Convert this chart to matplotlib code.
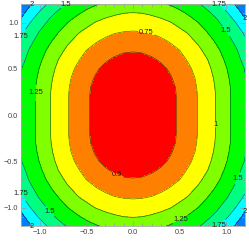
import numpy as np
import matplotlib.pyplot as plt
from matplotlib.ticker import MultipleLocator

plt.rcParams['font.family'] = ['Liberation Sans', 'DejaVu Sans']

# values on a 0.1 grid, quadrant x>=0, y>=0
# (rows: y = 0.0 .. 1.2, columns: x = 0.0 .. 1.2); the plot is symmetric in x and y
grid_step = 0.1
quadrant = np.array([
    [0.00, 0.11, 0.22, 0.33, 0.43, 0.54, 0.65, 0.76, 0.89, 1.02, 1.18, 1.33, 1.47],
    [0.00, 0.11, 0.22, 0.33, 0.43, 0.54, 0.65, 0.76, 0.89, 1.02, 1.18, 1.33, 1.47],
    [0.00, 0.11, 0.22, 0.33, 0.43, 0.54, 0.65, 0.76, 0.89, 1.02, 1.18, 1.33, 1.47],
    [0.09, 0.14, 0.23, 0.34, 0.44, 0.55, 0.66, 0.77, 0.90, 1.03, 1.19, 1.33, 1.48],
    [0.20, 0.22, 0.29, 0.38, 0.48, 0.58, 0.68, 0.79, 0.92, 1.05, 1.21, 1.35, 1.49],
    [0.30, 0.32, 0.37, 0.45, 0.53, 0.62, 0.72, 0.83, 0.95, 1.09, 1.24, 1.38, 1.51],
    [0.41, 0.43, 0.47, 0.53, 0.60, 0.68, 0.78, 0.89, 1.00, 1.14, 1.29, 1.42, 1.57],
    [0.52, 0.53, 0.57, 0.62, 0.68, 0.75, 0.85, 0.95, 1.08, 1.21, 1.34, 1.47, 1.63],
    [0.63, 0.64, 0.67, 0.71, 0.77, 0.85, 0.94, 1.04, 1.16, 1.29, 1.41, 1.55, 1.70],
    [0.74, 0.75, 0.77, 0.82, 0.88, 0.95, 1.03, 1.14, 1.26, 1.37, 1.49, 1.64, 1.80],
    [0.87, 0.87, 0.90, 0.94, 0.99, 1.07, 1.16, 1.25, 1.35, 1.46, 1.61, 1.75, 1.95],
    [0.99, 1.00, 1.03, 1.07, 1.13, 1.20, 1.28, 1.37, 1.46, 1.57, 1.72, 1.88, 2.07],
    [1.15, 1.16, 1.18, 1.22, 1.27, 1.33, 1.40, 1.48, 1.58, 1.72, 1.86, 2.02, 2.18],
])

levels = [0.5, 0.75, 1.0, 1.25, 1.5, 1.75, 2.0]
band_colors = ['#ff0000', '#ff8000', '#ffff00', '#80ff00',
               '#00ff00', '#00ff80', '#00ffff', '#0080ff']

# where the reference puts each contour's labels
label_spots = {
    2.0: [(-1.05, 1.2), (1.2, 1.03), (-1.05, -1.19), (1.2, -1.03)],
    1.75: [(0.9, 1.18), (-1.19, 0.8), (-1.19, -0.83), (0.92, -1.19)],
    1.5: [(-0.685, 1.2), (1.0, 0.91), (-0.88, -1.03), (1.12, -0.685)],
    1.25: [(-1.03, 0.24), (0.52, -1.15)],
    1.0: [(0.88, -0.1)],
    0.75: [(0.15, 0.915)],
    0.5: [(-0.17, -0.65)],
}

# mirror the quadrant into the full square
half = np.hstack([quadrant[:, :0:-1], quadrant])
Z = np.vstack([half[:0:-1], half])
n = quadrant.shape[0]
coords = np.arange(-(n - 1), n) * grid_step
X, Y = np.meshgrid(coords, coords)

fig = plt.figure(figsize=(2.49, 2.42), dpi=100)
ax = fig.add_axes([21/249, 16/242, 224/249, 222/242])

ax.contourf(X, Y, Z, levels=[-1] + levels + [5], colors=band_colors)

# one contour set per level so each label lands on its own line
texts = []
for lev in levels:
    cs = ax.contour(X, Y, Z, levels=[lev], colors='black', linewidths=0.5, alpha=0.6)
    texts += ax.clabel(cs, fmt=lambda v: f'{v:g}', fontsize=5.5, inline=True,
                       inline_spacing=1, manual=label_spots[lev], colors='#222222')
for t in texts:
    t.set_rotation(0)
    t.set_alpha(1)
    t.set_clip_on(False)

ax.set_xlim(-1.2, 1.2)
ax.set_ylim(-1.2, 1.2)
for a in (ax.xaxis, ax.yaxis):
    a.set_major_locator(MultipleLocator(0.5))
    a.set_minor_locator(MultipleLocator(0.1))
ax.tick_params(which='both', direction='in', top=True, right=True,
               color='#999999', width=0.5, labelsize=5.3, labelcolor='#444444', pad=2)
ax.tick_params(which='major', length=3.5)
ax.tick_params(which='minor', length=2)
ax.tick_params(labeltop=False, labelright=False)
for s in ax.spines.values():
    s.set_color('#aaaaaa')
    s.set_linewidth(0.6)

fig.savefig('out.png', dpi=100)
